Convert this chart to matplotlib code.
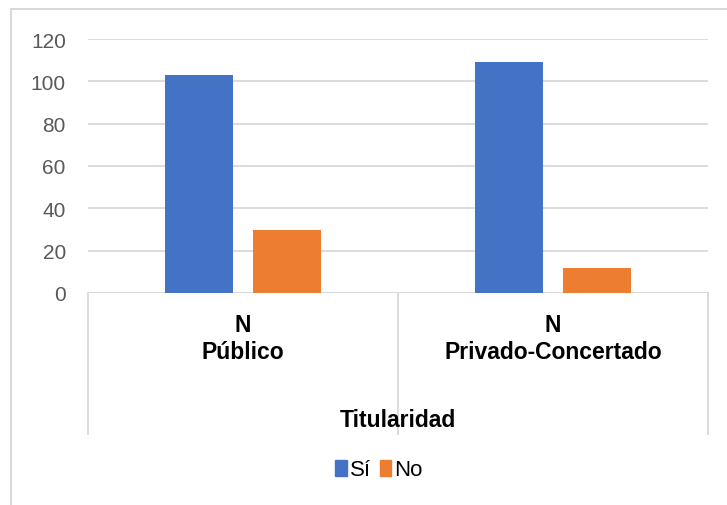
import matplotlib
matplotlib.use("Agg")
import matplotlib.pyplot as plt
import matplotlib.transforms as mtransforms
from matplotlib.patches import Rectangle, Patch
import numpy as np

plt.rcParams['font.family'] = ['Liberation Sans', 'DejaVu Sans']

categories = ["N\nPúblico", "N\nPrivado-Concertado"]
series_names = ["Sí", "No"]
si_values = [103, 109]
no_values = [30, 12]
y_ticks = [0, 20, 40, 60, 80, 100, 120]
axis_title = "Titularidad"

colors = ["#4472C4", "#ED7D31"]
W, H = 727, 506
fig = plt.figure(figsize=(W / 100, H / 100), dpi=100)

left, right, bottom, top = 88, 708, 294, 40
ax = fig.add_axes([left / W, 1 - bottom / H, (right - left) / W, (bottom - top) / H])

x = np.arange(len(categories))
bw = 0.22
off = 0.142
ax.bar(x - off, si_values, bw, color=colors[0], zorder=3)
ax.bar(x + off, no_values, bw, color=colors[1], zorder=3)

ax.set_xlim(-0.5, len(categories) - 0.5)
ax.set_ylim(0, 120)
ax.set_yticks(y_ticks)
ax.set_xticks([])
ax.tick_params(axis='y', length=0, pad=16, labelsize=15, labelcolor="#595959")
ax.grid(axis='y', color="#d9d9d9", linewidth=1.3, zorder=0)
for s in ax.spines.values():
    s.set_visible(False)
ax.axhline(0, color="#d9d9d9", linewidth=1.3, zorder=2)

# category axis box below
trans = mtransforms.blended_transform_factory(ax.transData, fig.transFigure)
y0 = 1 - bottom / H
y1 = 1 - 435 / H
for xb in np.arange(-0.5, len(categories), 1.0):
    ax.plot([xb, xb], [y0, y1], transform=trans, color="#d9d9d9", lw=1.3, clip_on=False)

for xi, lab in zip(x, categories):
    ax.text(xi, 1 - 339 / H, lab, transform=trans, ha='center', va='center',
            fontsize=16.5, fontweight='bold', color='black', linespacing=1.2)

ax.text((len(categories) - 1) / 2, 1 - 421 / H, axis_title, transform=trans,
        ha='center', va='center', fontsize=16.5, fontweight='bold', color='black')

handles = [Patch(color=c) for c in colors]
fig.legend(handles, series_names, loc='center', bbox_to_anchor=(379 / W, 1 - 471 / H),
           ncol=2, frameon=False, fontsize=16, handlelength=0.5, handleheight=0.7,
           handletextpad=0.15, columnspacing=0.4)

# outer chart border
fig.patches.append(Rectangle((11 / W, -0.2), 1.2, 1 - 10 / H + 0.2, transform=fig.transFigure,
                             fill=False, edgecolor="#d9d9d9", lw=1.5))

fig.savefig("out.png", dpi=100)
